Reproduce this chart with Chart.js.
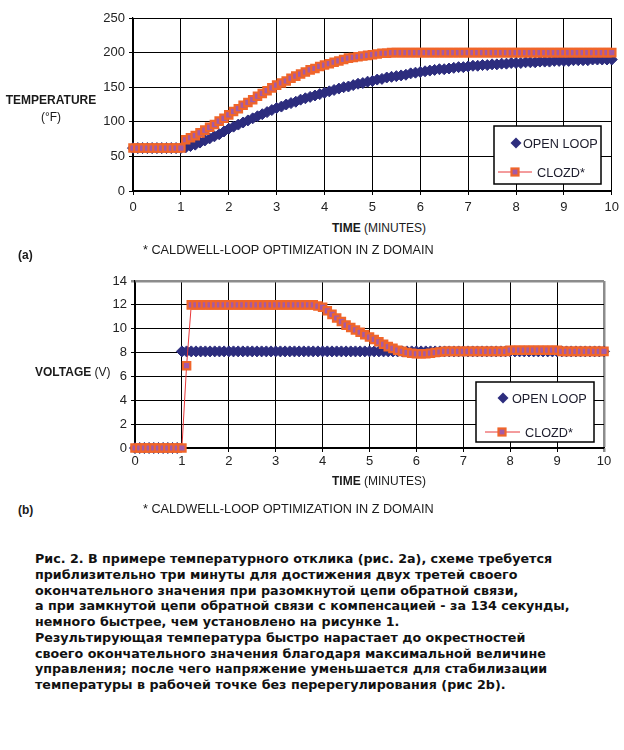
<!DOCTYPE html>
<html>
<head>
<meta charset="utf-8">
<script src="https://cdn.jsdelivr.net/npm/chart.js@4.4.0/dist/chart.umd.min.js"></script>
<style>
  body { margin: 0; background: #fff; font-family: "Liberation Sans", Arial, sans-serif; color: #1a1a1a; }
  #page { position: relative; width: 624px; height: 750px; overflow: hidden; background: #fff; }
  canvas { position: absolute; left: 0; }
  .lbl { position: absolute; white-space: nowrap; font-size: 12px; line-height: 14px; }
  .note { position: absolute; white-space: nowrap; font-size: 12.7px; line-height: 14px; }
  .caption { position: absolute; left: 35px; top: 551px; white-space: nowrap;
    font-family: "DejaVu Sans", Verdana, sans-serif; font-weight: bold; font-size: 12.7px; line-height: 15.75px; color: #111; }
</style>
</head>
<body>
<div id="page">
  <canvas id="tempChart" width="624" height="220" style="top:0"></canvas>
  <canvas id="voltChart" width="624" height="220" style="top:260px"></canvas>

  <div class="lbl" style="left:0;width:102px;text-align:center;top:93px"><b>TEMPERATURE</b></div>
  <div class="lbl" style="left:0;width:102px;text-align:center;top:110px">(°F)</div>
  <div class="lbl" style="left:332px;top:221px"><b>TIME</b> (MINUTES)</div>
  <div class="lbl" style="left:18px;top:248px"><b>(a)</b></div>
  <div class="note" style="left:143px;top:243px">* CALDWELL-LOOP OPTIMIZATION IN Z DOMAIN</div>

  <div class="lbl" style="left:35px;top:365px"><b>VOLTAGE</b> (V)</div>
  <div class="lbl" style="left:332px;top:474px"><b>TIME</b> (MINUTES)</div>
  <div class="lbl" style="left:18px;top:503px"><b>(b)</b></div>
  <div class="note" style="left:143px;top:502px">* CALDWELL-LOOP OPTIMIZATION IN Z DOMAIN</div>

  <div class="caption">
    Рис. 2. В примере температурного отклика (рис. 2а), схеме требуется<br>
    приблизительно три минуты для достижения двух третей своего<br>
    окончательного значения при разомкнутой цепи обратной связи,<br>
    а при замкнутой цепи обратной связи с компенсацией - за 134 секунды,<br>
    немного быстрее, чем установлено на рисунке 1.<br>
    Результирующая температура быстро нарастает до окрестностей<br>
    своего окончательного значения благодаря максимальной величине<br>
    управления; после чего напряжение уменьшается для стабилизации<br>
    температуры в рабочей точке без перерегулирования (рис 2b).
  </div>
</div>

<script>
// time axis, minutes (one sample every 0.1 min)
const minutes = [
  0, 0.1, 0.2, 0.3, 0.4, 0.5, 0.6, 0.7, 0.8, 0.9,
  1, 1.1, 1.2, 1.3, 1.4, 1.5, 1.6, 1.7, 1.8, 1.9,
  2, 2.1, 2.2, 2.3, 2.4, 2.5, 2.6, 2.7, 2.8, 2.9,
  3, 3.1, 3.2, 3.3, 3.4, 3.5, 3.6, 3.7, 3.8, 3.9,
  4, 4.1, 4.2, 4.3, 4.4, 4.5, 4.6, 4.7, 4.8, 4.9,
  5, 5.1, 5.2, 5.3, 5.4, 5.5, 5.6, 5.7, 5.8, 5.9,
  6, 6.1, 6.2, 6.3, 6.4, 6.5, 6.6, 6.7, 6.8, 6.9,
  7, 7.1, 7.2, 7.3, 7.4, 7.5, 7.6, 7.7, 7.8, 7.9,
  8, 8.1, 8.2, 8.3, 8.4, 8.5, 8.6, 8.7, 8.8, 8.9,
  9, 9.1, 9.2, 9.3, 9.4, 9.5, 9.6, 9.7, 9.8, 9.9,
  10
];

// (a) temperature, deg F
const tempOpen = [
  62, 62, 62, 62, 62, 62, 62, 62, 62, 62,
  62, 63, 65, 67, 70, 73, 76, 79, 82, 86,
  90, 93, 96, 99, 102, 105, 108, 111, 114, 117,
  120, 122, 125, 127, 129, 132, 134, 136, 138, 140,
  142, 144, 146, 148, 150, 151, 153, 155, 156, 158,
  159, 161, 162, 164, 165, 166, 167, 168, 170, 171,
  172, 173, 174, 175, 176, 176, 177, 178, 179, 179,
  180, 181, 181, 182, 182, 183, 183, 184, 184, 185,
  185, 185, 186, 186, 186, 187, 187, 187, 188, 188,
  188, 188, 189, 189, 189, 189, 190, 190, 190, 190,
  190
];
const tempClosed = [
  62, 62, 62, 62, 62, 62, 62, 62, 62, 62,
  62, 74, 77, 80, 84, 88, 92, 96, 101, 105,
  110, 115, 119, 124, 128, 132, 137, 141, 145, 149,
  153, 156, 159, 163, 166, 169, 172, 175, 177, 180,
  182, 184, 186, 188, 190, 192, 193, 194, 195, 196,
  197, 198, 199, 199, 200, 200, 200, 200, 200, 200,
  200, 200, 200, 200, 200, 200, 200, 200, 200, 200,
  200, 200, 200, 200, 200, 200, 200, 200, 200, 200,
  200, 200, 200, 200, 200, 200, 200, 200, 200, 200,
  200, 200, 200, 200, 200, 200, 200, 200, 200, 200,
  200
];

// (b) control voltage, V
const voltOpen = [
  0, 0, 0, 0, 0, 0, 0, 0, 0, 0,
  8.1, 8.1, 8.1, 8.1, 8.1, 8.1, 8.1, 8.1, 8.1, 8.1,
  8.1, 8.1, 8.1, 8.1, 8.1, 8.1, 8.1, 8.1, 8.1, 8.1,
  8.1, 8.1, 8.1, 8.1, 8.1, 8.1, 8.1, 8.1, 8.1, 8.1,
  8.1, 8.1, 8.1, 8.1, 8.1, 8.1, 8.1, 8.1, 8.1, 8.1,
  8.1, 8.1, 8.1, 8.1, 8.1, 8.1, 8.1, 8.1, 8.1, 8.1,
  8.1, 8.1, 8.1, 8.1, 8.1, 8.1, 8.1, 8.1, 8.1, 8.1,
  8.1, 8.1, 8.1, 8.1, 8.1, 8.1, 8.1, 8.1, 8.1, 8.1,
  8.1, 8.1, 8.1, 8.1, 8.1, 8.1, 8.1, 8.1, 8.1, 8.1,
  8.1, 8.1, 8.1, 8.1, 8.1, 8.1, 8.1, 8.1, 8.1, 8.1,
  8.1
];
const voltClosed = [
  0, 0, 0, 0, 0, 0, 0, 0, 0, 0,
  0, 6.9, 12, 12, 12, 12, 12, 12, 12, 12,
  12, 12, 12, 12, 12, 12, 12, 12, 12, 12,
  12, 12, 12, 12, 12, 12, 12, 12, 12, 11.9,
  11.8, 11.5, 11.2, 10.9, 10.6, 10.3, 10.1, 9.9, 9.7, 9.5,
  9.3, 9.1, 8.9, 8.7, 8.5, 8.35, 8.2, 8.1, 8.0, 7.95,
  7.9, 7.9, 7.9, 7.95, 8.0, 8.05, 8.1, 8.1, 8.1, 8.1,
  8.1, 8.1, 8.1, 8.1, 8.1, 8.1, 8.1, 8.1, 8.1, 8.1,
  8.2, 8.2, 8.2, 8.2, 8.2, 8.2, 8.2, 8.2, 8.2, 8.2,
  8.2, 8.1, 8.1, 8.1, 8.1, 8.1, 8.1, 8.1, 8.1, 8.1,
  8.1
];

const NAVY = '#2d2d7e';
const ORANGE = '#f0652a';
const PURPLE = '#a45aa6';
const RED = '#e8383a';

const toPoints = ys => minutes.map((m, i) => ({ x: m, y: ys[i] }));

// boxed legend inside the plot, like the original figure
const legendBox = {
  id: 'legendBox',
  afterDatasetsDraw(chart, args, o) {
    const ctx = chart.ctx;
    ctx.save();
    ctx.fillStyle = '#fff';
    ctx.fillRect(o.x, o.y, o.w, o.h);
    ctx.strokeStyle = '#000';
    ctx.lineWidth = 1.5;
    ctx.strokeRect(o.x, o.y, o.w, o.h);

    ctx.font = '12.7px "Liberation Sans", Arial, sans-serif';
    ctx.fillStyle = '#1c1c2c';
    ctx.textBaseline = 'middle';

    const r = 5.5;
    ctx.fillStyle = NAVY;
    ctx.beginPath();
    ctx.moveTo(o.dx, o.y1 - r);
    ctx.lineTo(o.dx + r, o.y1);
    ctx.lineTo(o.dx, o.y1 + r);
    ctx.lineTo(o.dx - r, o.y1);
    ctx.closePath();
    ctx.fill();
    ctx.fillStyle = '#1c1c2c';
    ctx.fillText(chart.data.datasets[0].label, o.t1, o.y1 + 1);

    ctx.strokeStyle = RED;
    ctx.lineWidth = 1;
    ctx.beginPath();
    ctx.moveTo(o.l0, o.y2);
    ctx.lineTo(o.l1, o.y2);
    ctx.stroke();
    ctx.fillStyle = PURPLE;
    ctx.fillRect(o.sx - 3.5, o.y2 - 3.5, 7, 7);
    ctx.strokeStyle = ORANGE;
    ctx.lineWidth = 2.2;
    ctx.strokeRect(o.sx - 3.5, o.y2 - 3.5, 7, 7);
    ctx.fillStyle = '#1c1c2c';
    ctx.fillText(chart.data.datasets[1].label, o.t2, o.y2 + 1);
    ctx.restore();
  }
};

function makeChart(id, open, closed, cfg) {
  const grey = cfg.greyEdges;
  const edge = (ctx, max, a, b) => (grey && ctx.tick && ctx.tick.value === max) ? a : b;
  return new Chart(document.getElementById(id), {
    type: 'line',
    data: {
      datasets: [{
        label: 'OPEN LOOP',
        data: toPoints(open),
        showLine: false,
        pointStyle: 'rectRot',
        pointRadius: 5.5,
        pointBackgroundColor: NAVY,
        pointBorderColor: NAVY,
        pointBorderWidth: 1,
        order: 1,
        clip: false
      }, {
        label: 'CLOZD*',
        data: toPoints(closed),
        borderColor: RED,
        borderWidth: 1,
        pointStyle: 'rect',
        pointRadius: 5.2,
        pointBackgroundColor: PURPLE,
        pointBorderColor: ORANGE,
        pointBorderWidth: 2.2,
        order: 0,
        clip: false
      }]
    },
    options: {
      responsive: false,
      animation: false,
      events: [],
      layout: { padding: cfg.padding },
      plugins: {
        legend: { display: false },
        tooltip: { enabled: false },
        legendBox: cfg.legend
      },
      scales: {
        x: {
          type: 'linear',
          min: 0, max: 10,
          afterFit: s => { s.height = cfg.xHeight; },
          ticks: { stepSize: 1, padding: cfg.xPad, color: '#222', font: { size: 13, family: '"Liberation Sans", Arial' } },
          grid: {
            color: ctx => edge(ctx, 10, '#8c8c8c', '#000'),
            lineWidth: ctx => edge(ctx, 10, 2.5, 1),
            tickLength: 4
          },
          border: { color: '#000', width: 1.2 }
        },
        y: {
          min: 0, max: cfg.yMax,
          afterFit: s => { s.width = cfg.yWidth; },
          ticks: { stepSize: cfg.yStep, padding: 4, color: '#222', font: { size: 13, family: '"Liberation Sans", Arial' } },
          grid: {
            color: ctx => edge(ctx, cfg.yMax, '#8c8c8c', '#000'),
            lineWidth: ctx => edge(ctx, cfg.yMax, 2.5, 1),
            tickLength: 4
          },
          border: { color: '#000', width: 1.2 }
        }
      }
    },
    plugins: [legendBox]
  });
}

makeChart('tempChart', tempOpen, tempClosed, {
  padding: { left: 0, top: 18, right: 11, bottom: 0 },
  yWidth: 133, xHeight: 29, xPad: 5,
  yMax: 250, yStep: 50, greyEdges: false,
  legend: { x: 494, y: 126, w: 107, h: 58, dx: 516, y1: 143, t1: 523, l0: 498, l1: 532, sx: 515, y2: 172, t2: 537 }
});

makeChart('voltChart', voltOpen, voltClosed, {
  padding: { left: 0, top: 21, right: 20, bottom: 0 },
  yWidth: 135, xHeight: 32, xPad: 2,
  yMax: 14, yStep: 2, greyEdges: true,
  legend: { x: 476, y: 122, w: 118, h: 60, dx: 503, y1: 138, t1: 512, l0: 485, l1: 520, sx: 502, y2: 172, t2: 525 }
});
</script>
</body>
</html>
